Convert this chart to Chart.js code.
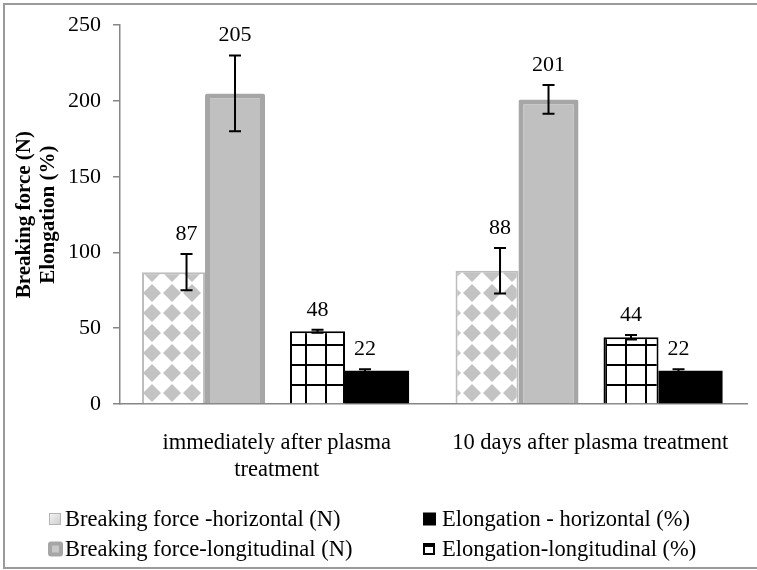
<!DOCTYPE html>
<html><head><meta charset="utf-8">
<script src="https://cdn.jsdelivr.net/npm/chart.js@4.4.1/dist/chart.umd.min.js"></script>
<style>
html,body{margin:0;padding:0;background:#fff;}
#wrap{position:relative;width:757px;height:570px;overflow:hidden;background:#fff;font-family:"Liberation Serif","Times New Roman",serif;}
#frame{position:absolute;left:3px;top:3px;width:800px;height:566px;border:2px solid #9a9a9a;box-sizing:border-box;pointer-events:none;}
canvas{position:absolute;left:0;top:0;}
.lg{position:absolute;font-size:22.5px;line-height:26px;color:#000;white-space:nowrap;transform:translateY(-50%);}
.mk{position:absolute;box-sizing:border-box;transform:translateY(-50%);}
</style></head><body>
<div id="wrap"><canvas id="c" width="757" height="570"></canvas><div id="frame"></div><div id="legend"></div></div>
<script>
// ---- data ----
const categories = [["immediately after plasma", "treatment"], "10 days after plasma treatment"];
const seriesNames = ["Breaking force -horizontal (N)", "Breaking force-longitudinal (N)", "Elongation-longitudinal (%)", "Elongation - horizontal (%)"];
const bfHorizontal = [87, 88];
const bfHorizontalErr = [12, 15];
const bfLongitudinal = [205, 201];
const bfLongitudinalErr = [25, 9.5];
const elLongitudinal = [48, 44];
const elLongitudinalErr = [1, 1.5];
const elHorizontal = [22, 22];
const elHorizontalErr = [1, 1];
const yTicks = [0, 50, 100, 150, 200, 250];

const FONT = '"Liberation Serif", "Times New Roman", serif';
const canvas = document.getElementById('c');
const ctx = canvas.getContext('2d');

function diamondPattern() {
  const c = document.createElement('canvas'); c.width = 20; c.height = 20;
  const g = c.getContext('2d');
  g.fillStyle = '#fff'; g.fillRect(0, 0, 20, 20);
  g.fillStyle = '#c3c3c3';
  g.beginPath(); g.moveTo(10, 1); g.lineTo(19, 10); g.lineTo(10, 19); g.lineTo(1, 10); g.closePath(); g.fill();
  const p = ctx.createPattern(c, 'repeat');
  p.setTransform(new DOMMatrix().translate(2, 3));
  return p;
}
function gridPattern() {
  const c = document.createElement('canvas'); c.width = 20; c.height = 20;
  const g = c.getContext('2d');
  g.fillStyle = '#fff'; g.fillRect(0, 0, 20, 20);
  g.fillStyle = '#000';
  g.fillRect(0, 0, 2, 20); g.fillRect(0, 0, 20, 2);
  const p = ctx.createPattern(c, 'repeat');
  p.setTransform(new DOMMatrix().translate(5, 4));
  return p;
}

const errPlugin = {
  id: 'errs',
  afterDatasetsDraw(chart) {
    const c = chart.ctx, y = chart.scales.y;
    chart.data.datasets.forEach((ds, i) => {
      const meta = chart.getDatasetMeta(i);
      meta.data.forEach((bar, j) => {
        const v = ds.data[j], e = ds.errors[j];
        const x = bar.x + ds.errShift;
        const yt = y.getPixelForValue(v + e), yb = y.getPixelForValue(v - e);
        c.save();
        c.strokeStyle = '#000'; c.lineWidth = 2;
        c.beginPath();
        c.moveTo(x, yt); c.lineTo(x, yb);
        c.moveTo(x - 6, yt); c.lineTo(x + 6, yt);
        c.moveTo(x - 6, yb); c.lineTo(x + 6, yb);
        c.stroke();
        c.font = '22px ' + FONT; c.fillStyle = '#000';
        c.textAlign = 'center'; c.textBaseline = 'middle';
        c.fillText(String(v), x, yt - 20);
        c.restore();
      });
    });
  }
};

new Chart(ctx, {
  type: 'bar',
  data: {
    labels: categories,
    datasets: [
      { label: seriesNames[0], data: bfHorizontal, errors: bfHorizontalErr, errShift: 13,
        backgroundColor: diamondPattern(), borderColor: '#bdbdbd', borderWidth: 2,
        categoryPercentage: 0.878, barPercentage: 0.916 },
      { label: seriesNames[1], data: bfLongitudinal, errors: bfLongitudinalErr, errShift: 0,
        backgroundColor: '#c0c0c0', borderColor: '#a6a6a6', borderWidth: 5, borderRadius: 2,
        categoryPercentage: 1.065, barPercentage: 0.719 },
      { label: seriesNames[2], data: elLongitudinal, errors: elLongitudinalErr, errShift: 0,
        backgroundColor: gridPattern(), borderColor: '#000', borderWidth: 2,
        categoryPercentage: 1.04, barPercentage: 0.675 },
      { label: seriesNames[3], data: elHorizontal, errors: elHorizontalErr, errShift: -12,
        backgroundColor: '#000', borderColor: '#000', borderWidth: 0,
        categoryPercentage: 0.853, barPercentage: 0.958 }
    ]
  },
  options: {
    responsive: false,
    animation: false,
    devicePixelRatio: 1,
    layout: { padding: { top: 24, right: 10, bottom: 0, left: 0 } },
    plugins: { legend: { display: false }, tooltip: { enabled: false } },
    scales: {
      x: {
        grid: { display: false },
        border: { display: true, color: '#868686', width: 1.5 },
        ticks: { color: '#000', font: { family: FONT, size: 22.5 }, padding: 18, maxRotation: 0, autoSkip: false },
        afterFit(s) { s.height = 166; }
      },
      y: {
        min: 0, max: 250,
        afterBuildTicks(s) { s.ticks = yTicks.map(v => ({ value: v })); },
        grid: { drawOnChartArea: false, drawTicks: true, tickLength: 7, color: '#868686', lineWidth: 1.5 },
        border: { display: true, color: '#868686', width: 1.5 },
        ticks: { color: '#000', font: { family: FONT, size: 22 }, padding: 12 },
        title: { display: true, text: ['Breaking force (N)', 'Elongation (%)'], color: '#000',
          font: { family: FONT, size: 21, weight: 'bold', lineHeight: 1.1 }, padding: { top: 13.5, bottom: 0 } },
        afterFit(s) { s.width = 120; }
      }
    }
  },
  plugins: [errPlugin]
});

// ---- HTML legend (2 x 2, row-major like the original) ----
const legendItems = [
  { name: seriesNames[0], row: 0, col: 0, style: 'width:12px;height:12px;border:1.5px solid #b5b5b5;background:linear-gradient(135deg,#f2f2f2,#cfcfcf);' },
  { name: seriesNames[3], row: 0, col: 1, style: 'width:13px;height:13px;background:#000;' },
  { name: seriesNames[1], row: 1, col: 0, style: 'width:15px;height:15px;border-radius:3px;border:4px solid #a6a6a6;background:#c8c8c8;' },
  { name: seriesNames[2], row: 1, col: 1, style: 'width:12px;height:12px;border:2px solid #000;border-top-width:4px;background:#fff;' }
];
const rowY = [519, 549];
const markX = [49, 423];
const textX = [65, 442];
const lg = document.getElementById('legend');
legendItems.forEach(it => {
  const m = document.createElement('div');
  m.className = 'mk';
  m.style.cssText = it.style + 'left:' + (markX[it.col] - (it.row === 1 && it.col === 0 ? 1 : 0)) + 'px;top:' + rowY[it.row] + 'px;';
  lg.appendChild(m);
  const t = document.createElement('div');
  t.className = 'lg';
  t.textContent = it.name;
  t.style.left = textX[it.col] + 'px';
  t.style.top = rowY[it.row] + 'px';
  lg.appendChild(t);
});
</script>
</body></html>
